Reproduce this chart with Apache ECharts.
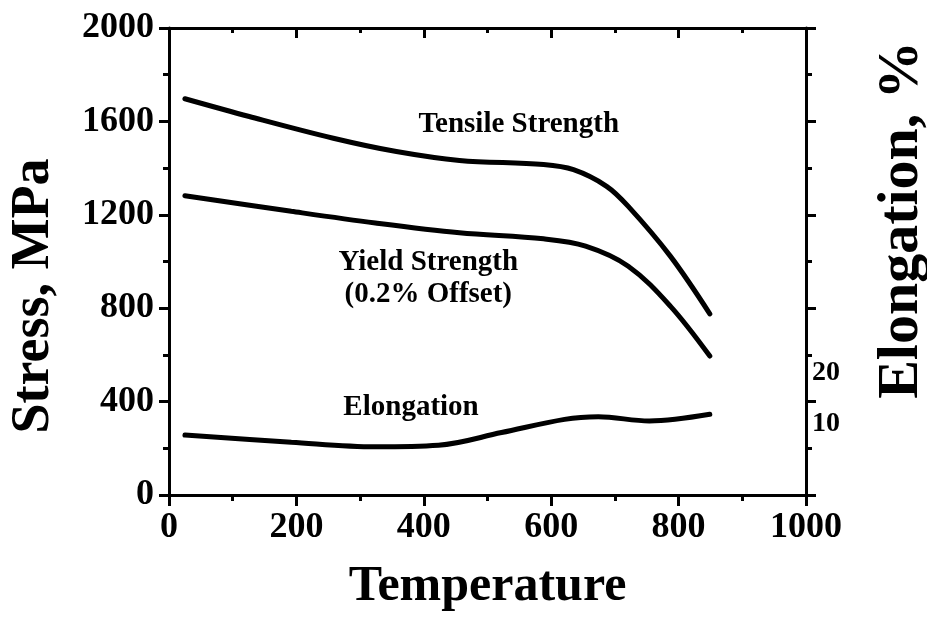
<!DOCTYPE html>
<html>
<head>
<meta charset="utf-8">
<script src="https://cdn.jsdelivr.net/npm/echarts@6/dist/echarts.min.js"></script>
<style>html,body{margin:0;padding:0;background:#fff}#c{width:927px;height:617px}</style>
</head>
<body>
<div id="c"></div>
<script>
// Data
const tensileT = [25, 126, 258, 357, 456, 588, 635, 687, 721, 787, 849];
const tensileS = [1697, 1621, 1528, 1471, 1433, 1415, 1393, 1322, 1236, 1023, 776];
const yieldT = [25, 192, 324, 456, 588, 654, 721, 787, 849];
const yieldS = [1282, 1215, 1165, 1123, 1097, 1066, 980, 809, 595];
const elongT = [25, 192, 324, 423, 522, 621, 674, 754, 849];
const elongE = [7.8, 6.4, 5.5, 5.8, 8.3, 10.9, 11.4, 10.6, 11.9];
const elongTickLabels = [10, 20];
const annotations = [
  {text: 'Tensile Strength', x: 549, y: 1585},
  {text: 'Yield Strength', x: 407, y: 996},
  {text: '(0.2% Offset)', x: 407, y: 859},
  {text: 'Elongation', x: 380, y: 376}
];

const FONT = 'Liberation Serif, Times New Roman, serif';
const zip = (a, b) => a.map((v, i) => [v, b[i]]);
const chart = echarts.init(document.getElementById('c'));
const lineW = 3;
const mkLine = () => ({show: true, onZero: false, lineStyle: {color: '#000', width: lineW}});
const option = {
  animation: false,
  backgroundColor: '#fff',
  grid: {left: 169, right: 121, top: 28, bottom: 121, containLabel: false},
  xAxis: [
    {
      type: 'value', position: 'bottom', min: 0, max: 1000, interval: 200,
      axisLine: mkLine(), splitLine: {show: false},
      axisTick: {show: true, inside: false, length: 11, lineStyle: {width: lineW, color: '#000'}},
      minorTick: {show: true, splitNumber: 2, length: 6, lineStyle: {width: lineW, color: '#000'}},
      axisLabel: {show: true, margin: 15, color: '#000', fontFamily: FONT, fontWeight: 'bold', fontSize: 36,
        formatter: v => String(v)},
      name: 'Temperature', nameLocation: 'middle', nameGap: 67,
      nameTextStyle: {color: '#000', fontFamily: FONT, fontWeight: 'bold', fontSize: 50}
    },
    {
      type: 'value', position: 'top', min: 0, max: 1000, interval: 200,
      axisLine: mkLine(), splitLine: {show: false},
      axisTick: {show: true, inside: true, length: 10, lineStyle: {width: lineW, color: '#000'}},
      minorTick: {show: true, splitNumber: 2, length: 5, lineStyle: {width: lineW, color: '#000'}},
      axisLabel: {show: false}
    }
  ],
  yAxis: [
    {
      type: 'value', position: 'left', min: 0, max: 2000, interval: 400,
      axisLine: mkLine(), splitLine: {show: false},
      axisTick: {show: true, inside: false, length: 10, lineStyle: {width: lineW, color: '#000'}},
      minorTick: {show: true, splitNumber: 2, length: 6, lineStyle: {width: lineW, color: '#000'}},
      axisLabel: {show: true, margin: 15, color: '#000', fontFamily: FONT, fontWeight: 'bold', fontSize: 36,
        formatter: v => String(v)}
    },
    {
      type: 'value', position: 'right', min: 0, max: 2000, interval: 400,
      axisLine: mkLine(), splitLine: {show: false},
      axisTick: {show: true, inside: false, length: 10, lineStyle: {width: lineW, color: '#000'}},
      minorTick: {show: true, splitNumber: 2, length: 6, lineStyle: {width: lineW, color: '#000'}},
      axisLabel: {show: false}
    },
    {
      type: 'value', position: 'right', min: -4, max: 88, interval: 2,
      axisLine: {show: false, onZero: false}, axisTick: {show: false}, splitLine: {show: false},
      axisLabel: {
        show: true, margin: 6, color: '#000', fontFamily: FONT, fontWeight: 'bold', fontSize: 28,
        formatter: v => elongTickLabels.indexOf(v) >= 0 ? String(v) : ''
      }
    }
  ],
  series: [
    {name: 'Tensile Strength', type: 'line', xAxisIndex: 0, yAxisIndex: 0, data: zip(tensileT, tensileS),
      smooth: 0.35, symbol: 'none', lineStyle: {color: '#000', width: 5, cap: 'round'}},
    {name: 'Yield Strength', type: 'line', xAxisIndex: 0, yAxisIndex: 0, data: zip(yieldT, yieldS),
      smooth: 0.35, symbol: 'none', lineStyle: {color: '#000', width: 5, cap: 'round'}},
    {name: 'Elongation', type: 'line', xAxisIndex: 0, yAxisIndex: 2, data: zip(elongT, elongE),
      smooth: 0.35, symbol: 'none', lineStyle: {color: '#000', width: 5, cap: 'round'}}
  ]
};
chart.setOption(option);

const graphics = annotations.map(a => {
  const p = chart.convertToPixel({xAxisIndex: 0, yAxisIndex: 0}, [a.x, a.y]);
  return {type: 'text', x: p[0], y: p[1], style: {text: a.text, fill: '#000',
    font: 'bold 29px ' + FONT, textAlign: 'center', textVerticalAlign: 'middle'}};
});
graphics.push({type: 'text', x: 34, y: 296, rotation: Math.PI / 2,
  style: {text: 'Stress, MPa', fill: '#000', font: 'bold 54px ' + FONT, textAlign: 'center', textVerticalAlign: 'middle'}});
graphics.push({type: 'text', x: 902, y: 220, rotation: Math.PI / 2,
  style: {text: 'Elongation, %', fill: '#000', font: 'bold 58px ' + FONT, textAlign: 'center', textVerticalAlign: 'middle'}});
chart.setOption({graphic: graphics});
</script>
</body>
</html>
